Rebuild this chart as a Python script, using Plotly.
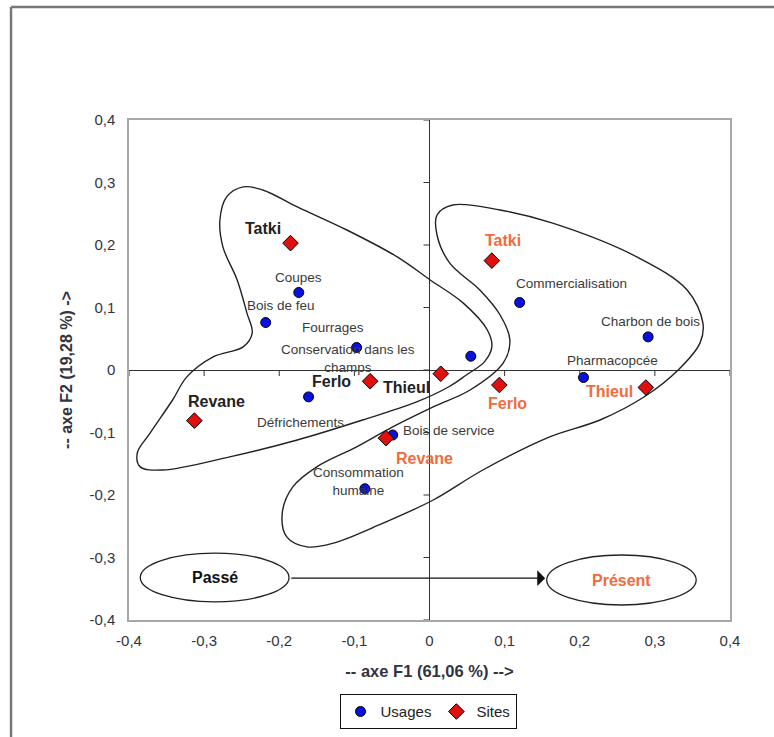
import plotly.graph_objects as go

# ---------------- data ----------------
usage_names = ["Coupes", "Bois de feu", "Fourrages", "Conservation dans les champs",
               "Défrichements", "Bois de service", "Consommation humaine",
               "Commercialisation", "Charbon de bois", "Pharmacopcée"]
usage_f1 = [-0.174, -0.218, 0.055, -0.097, -0.161, -0.049, -0.086, 0.120, 0.291, 0.205]
usage_f2 = [0.124, 0.076, 0.022, 0.036, -0.043, -0.104, -0.190, 0.108, 0.053, -0.012]

site_names = ["Tatki", "Revane", "Ferlo", "Thieul", "Tatki", "Revane", "Ferlo", "Thieul"]
site_period = ["Passé", "Passé", "Passé", "Passé", "Présent", "Présent", "Présent", "Présent"]
site_f1 = [-0.185, -0.313, -0.079, 0.015, 0.083, -0.058, 0.093, 0.288]
site_f2 = [0.203, -0.081, -0.018, -0.006, 0.175, -0.109, -0.024, -0.028]

tick_vals = [-0.4, -0.3, -0.2, -0.1, 0, 0.1, 0.2, 0.3, 0.4]
tick_text = ["-0,4", "-0,3", "-0,2", "-0,1", "0", "0,1", "0,2", "0,3", "0,4"]

x_title = "-- axe F1 (61,06 %) -->"
y_title = "-- axe F2 (19,28 %) ->"

# ---------------- label placement (positions, in data units) ----------------
usage_label_text = ["Coupes", "Bois de feu", "Fourrages", "Conservation dans les<br>champs",
                    "Défrichements", "Bois de service", "Consommation<br>humaine",
                    "Commercialisation", "Charbon de bois", "Pharmacopcée"]
usage_label_x = [-0.175, -0.198, -0.128, -0.108, -0.172, 0.026, -0.094, 0.189, 0.294, 0.243]
usage_label_y = [0.148, 0.104, 0.068, 0.018, -0.084, -0.096, -0.179, 0.139, 0.078, 0.016]

site_label_x = [-0.222, -0.284, -0.130, -0.031, 0.098, -0.006, 0.104, 0.239]
site_label_y = [0.227, -0.051, -0.019, -0.028, 0.207, -0.141, -0.053, -0.035]

# group contours (hand-drawn outlines in the original)
past_contour_x = [-0.110, -0.043, 0.001, 0.045, 0.077, 0.083, 0.073, 0.049, 0.027, -0.017,
                  -0.089, -0.176, -0.266, -0.355, -0.385, -0.389, -0.372, -0.342, -0.323,
                  -0.288, -0.248, -0.236, -0.243, -0.256, -0.275, -0.279, -0.270, -0.248,
                  -0.222, -0.176, -0.110]
past_contour_y = [0.224, 0.181, 0.144, 0.107, 0.064, 0.037, 0.013, -0.008, -0.026, -0.051,
                  -0.080, -0.112, -0.139, -0.160, -0.155, -0.133, -0.101, -0.048, -0.011,
                  0.021, 0.037, 0.059, 0.091, 0.144, 0.197, 0.240, 0.277, 0.293,
                  0.288, 0.261, 0.224]
present_contour_x = [0.164, 0.276, 0.343, 0.364, 0.360, 0.331, 0.287, 0.227, 0.160, 0.071,
                     0.005, -0.062, -0.128, -0.163, -0.190, -0.196, -0.182, -0.150, -0.097,
                     -0.049, 0.005, 0.054, 0.098, 0.107, 0.094, 0.067, 0.027, 0.010, 0.010,
                     0.031, 0.094, 0.164]
present_contour_y = [0.235, 0.181, 0.128, 0.075, 0.043, 0.000, -0.042, -0.080, -0.107, -0.160,
                     -0.208, -0.245, -0.277, -0.283, -0.267, -0.229, -0.187, -0.155, -0.123,
                     -0.091, -0.059, -0.032, 0.011, 0.048, 0.088, 0.128, 0.171, 0.216, 0.248,
                     0.264, 0.256, 0.235]

FONT = "Liberation Sans, Arial, sans-serif"
ORANGE = "#F26B3A"
BLUE = "#0A10E0"
RED = "#E01010"

fig = go.Figure()

for cx, cy in [(past_contour_x, past_contour_y), (present_contour_x, present_contour_y)]:
    fig.add_trace(go.Scatter(x=cx, y=cy, mode="lines", showlegend=False, hoverinfo="skip",
                             line=dict(color="#222222", width=1.4, shape="spline", smoothing=1.0)))

fig.add_trace(go.Scatter(x=usage_f1, y=usage_f2, mode="markers", name="Usages",
                         text=usage_names,
                         marker=dict(symbol="circle", size=10, color=BLUE,
                                     line=dict(color="black", width=1))))
fig.add_trace(go.Scatter(x=site_f1, y=site_f2, mode="markers", name="Sites",
                         text=[f"{n} ({p})" for n, p in zip(site_names, site_period)],
                         marker=dict(symbol="diamond", size=12, color=RED,
                                     line=dict(color="black", width=1))))

annotations = []
for t, x, y in zip(usage_label_text, usage_label_x, usage_label_y):
    annotations.append(dict(x=x, y=y, xref="x", yref="y", text=t, showarrow=False,
                            font=dict(family=FONT, size=13.5, color="#3a3a3a")))
for n, p, x, y in zip(site_names, site_period, site_label_x, site_label_y):
    annotations.append(dict(x=x, y=y, xref="x", yref="y", text=f"<b>{n}</b>", showarrow=False,
                            font=dict(family=FONT, size=16,
                                      color="#222222" if p == "Passé" else ORANGE)))

# Passé -> Présent
annotations.append(dict(x=0.154, y=-0.333, ax=-0.186, ay=-0.333, xref="x", yref="y",
                        axref="x", ayref="y", text="", showarrow=True, arrowhead=1,
                        arrowsize=2.2, arrowwidth=1.2, arrowcolor="#111111"))
annotations.append(dict(x=-0.286, y=-0.332, xref="x", yref="y", text="<b>Passé</b>",
                        showarrow=False, font=dict(family=FONT, size=16, color="#111111")))
annotations.append(dict(x=0.2555, y=-0.336, xref="x", yref="y", text="<b>Présent</b>",
                        showarrow=False, font=dict(family=FONT, size=16, color=ORANGE)))

shapes = [
    dict(type="circle", xref="x", yref="y", x0=-0.385, x1=-0.187, y0=-0.371, y1=-0.293,
         line=dict(color="#222222", width=1.3), fillcolor="white", layer="below"),
    dict(type="circle", xref="x", yref="y", x0=0.156, x1=0.355, y0=-0.376, y1=-0.296,
         line=dict(color="#222222", width=1.3), fillcolor="white", layer="below"),
    # outer frame (cut off on the right and bottom)
    dict(type="line", xref="paper", yref="paper", x0=-0.1963, x1=1.08, y0=1.226, y1=1.226,
         line=dict(color="#777777", width=2.5)),
    dict(type="line", xref="paper", yref="paper", x0=-0.1963, x1=-0.1963, y0=1.226, y1=-0.25,
         line=dict(color="#777777", width=2.5)),
]
# tick marks on the zero lines
for v in tick_vals:
    shapes.append(dict(type="line", xref="x", yref="y", x0=v, x1=v, y0=0, y1=-6,
                       ysizemode="pixel", yanchor=0, line=dict(color="#333333", width=1)))
    shapes.append(dict(type="line", xref="x", yref="y", y0=v, y1=v, x0=0, x1=-6,
                       xsizemode="pixel", xanchor=0, line=dict(color="#333333", width=1)))

axis_common = dict(range=[-0.4, 0.4], tickvals=tick_vals, ticktext=tick_text,
                   showgrid=False, zeroline=True, zerolinecolor="#333333", zerolinewidth=1.2,
                   showline=True, mirror=True, linecolor="#a8a8a8", linewidth=1.5,
                   ticks="outside", tickcolor="rgba(0,0,0,0)", automargin=False,
                   tickfont=dict(family=FONT, size=15, color="#333340"))

fig.update_layout(
    width=774, height=737,
    margin=dict(l=129, r=44, t=120, b=117, autoexpand=False),
    paper_bgcolor="white", plot_bgcolor="white",
    font=dict(family=FONT),
    xaxis=dict(**axis_common, ticklen=6,
               title=dict(text=f"<b>{x_title}</b>", standoff=18,
                          font=dict(family=FONT, size=16.5, color="#333340"))),
    yaxis=dict(**axis_common, ticklen=9,
               title=dict(text=f"<b>{y_title}</b>", standoff=13,
                          font=dict(family=FONT, size=16, color="#333340"))),
    showlegend=True,
    legend=dict(orientation="h", xref="container", yref="container",
                x=0.553, xanchor="center", y=0.058, yanchor="top",
                bordercolor="#111111", borderwidth=1, bgcolor="white",
                itemwidth=30, tracegroupgap=0,
                font=dict(family=FONT, size=15, color="#222222")),
    annotations=annotations,
    shapes=shapes,
)

fig.write_html("out.html")
